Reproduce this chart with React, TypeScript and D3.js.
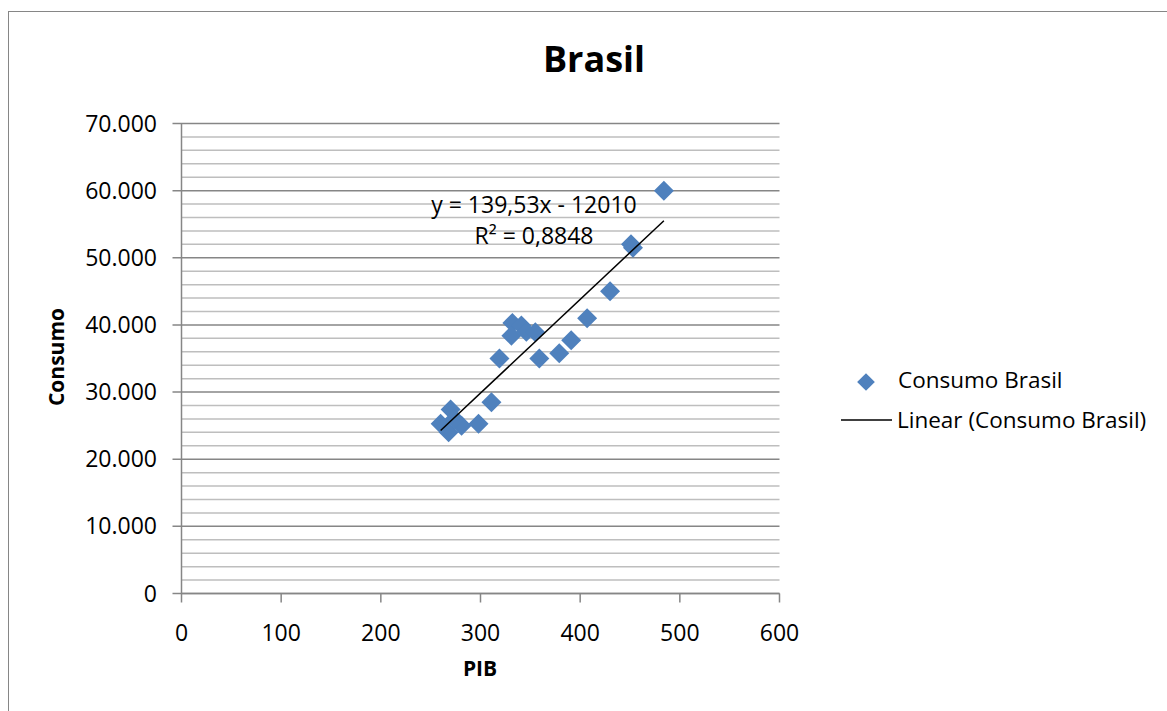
import React from "react";
import * as d3 from "d3";

// Consumo vs PIB, Brasil
const pib = [484, 451, 453, 430, 407, 391, 379, 359, 319, 332, 331, 341, 346, 355, 311, 298, 270, 260, 268, 281, 274];
const consumo = [60000, 52000, 51500, 45000, 41000, 37700, 35800, 35000, 35000, 40300, 38400, 39900, 39000, 38900, 28500, 25300, 27400, 25300, 24000, 25000, 26000];

const xTicks = [0, 100, 200, 300, 400, 500, 600];
const yMajorTicks = [0, 10000, 20000, 30000, 40000, 50000, 60000, 70000];
const yMinorTicks = d3.range(0, 70001, 2000);

const slope = 139.53;
const intercept = -12010;
const rSquared = 0.8848;

const seriesName = "Consumo Brasil";
const trendName = "Linear (Consumo Brasil)";

const FONT = "'Open Sans', 'Noto Sans', sans-serif";
const BLUE = "#4F81BD";
const AXIS = "#868686";
const MINOR = "#BEBEBE";

const ptBR = d3.formatLocale({ decimal: ",", thousands: ".", grouping: [3], currency: ["R$", ""] });
const fmtY = ptBR.format(",.0f");

export default function App() {
  const width = 1167;
  const height = 711;

  const xScale = d3.scaleLinear().domain([0, 600]).range([181.5, 779.5]);
  const yScale = d3.scaleLinear().domain([0, 70000]).range([593.5, 123.5]);

  const points = pib.map((x, i) => ({ x, y: consumo[i] }));
  const xMin = d3.min(pib) as number;
  const xMax = d3.max(pib) as number;
  const trend = d3
    .line<number>()
    .x((x) => xScale(x))
    .y((x) => yScale(slope * x + intercept))([xMin, xMax]);

  const diamond = d3.symbol().type(d3.symbolDiamond2).size(255)();
  const legendDiamond = d3.symbol().type(d3.symbolDiamond2).size(200)();

  const eqText = `y = ${ptBR.format(".2f")(slope)}x - ${Math.abs(intercept)}`;
  const r2Text = `R² = ${ptBR.format(".4f")(rSquared)}`;

  const x0 = xScale(0);
  const x1 = xScale(600);

  return (
    <svg
      width={width}
      height={height}
      style={{ position: "absolute", left: 0, top: 0, fontFamily: FONT }}
    >
      <rect x={0} y={0} width={width} height={height} fill="#fff" />
      {/* moldura */}
      <rect x={8.5} y={11.5} width={1300} height={900} fill="none" stroke={AXIS} strokeWidth={1} />

      {/* title */}
      <text x={594} y={72} textAnchor="middle" fontSize={36} fontWeight="bold">
        Brasil
      </text>

      {/* minor gridlines */}
      {yMinorTicks
        .filter((v) => v % 10000 !== 0)
        .map((v) => (
          <line key={"m" + v} x1={x0} x2={x1} y1={yScale(v)} y2={yScale(v)} stroke={MINOR} strokeWidth={1.5} />
        ))}
      {/* major gridlines */}
      {yMajorTicks.map((v) => (
        <g key={"M" + v}>
          <line x1={x0 - 9} x2={x1} y1={yScale(v)} y2={yScale(v)} stroke={AXIS} strokeWidth={1.5} />
          <text x={157} y={yScale(v)} dy="0.35em" textAnchor="end" fontSize={23}>
            {fmtY(v)}
          </text>
        </g>
      ))}

      {/* y axis */}
      <line x1={x0} x2={x0} y1={yScale(70000)} y2={yScale(0)} stroke={AXIS} strokeWidth={1.5} />
      {/* x axis */}
      <line x1={x0} x2={x1} y1={yScale(0)} y2={yScale(0)} stroke={AXIS} strokeWidth={1.5} />
      {xTicks.map((t) => (
        <g key={"x" + t}>
          <line x1={xScale(t)} x2={xScale(t)} y1={yScale(0)} y2={yScale(0) + 9} stroke={AXIS} strokeWidth={1.5} />
          <text x={xScale(t)} y={641} textAnchor="middle" fontSize={23}>
            {t}
          </text>
        </g>
      ))}

      {/* axis titles */}
      <text x={480} y={676} textAnchor="middle" fontSize={21} fontWeight="bold">
        PIB
      </text>
      <text
        transform={`translate(64, 357) rotate(-90)`}
        textAnchor="middle"
        fontSize={21}
        fontWeight="bold"
      >
        Consumo
      </text>

      {/* pontos */}
      {points.map((d, i) => (
        <path key={i} d={diamond as string} transform={`translate(${xScale(d.x)},${yScale(d.y)})`} fill={BLUE} />
      ))}

      {/* linha de tendência */}
      <path d={trend as string} fill="none" stroke="#000" strokeWidth={1.5} />

      {/* equação */}
      <text x={534} y={213} textAnchor="middle" fontSize={23}>
        {eqText}
      </text>
      <text x={534} y={244} textAnchor="middle" fontSize={23}>
        {r2Text}
      </text>

      {/* legenda */}
      <path d={legendDiamond as string} transform="translate(866,382)" fill={BLUE} />
      <text x={898} y={388} fontSize={22.5}>
        {seriesName}
      </text>
      <line x1={841} x2={892} y1={420} y2={420} stroke="#000" strokeWidth={1.5} />
      <text x={897} y={428} fontSize={22.5}>
        {trendName}
      </text>
    </svg>
  );
}
